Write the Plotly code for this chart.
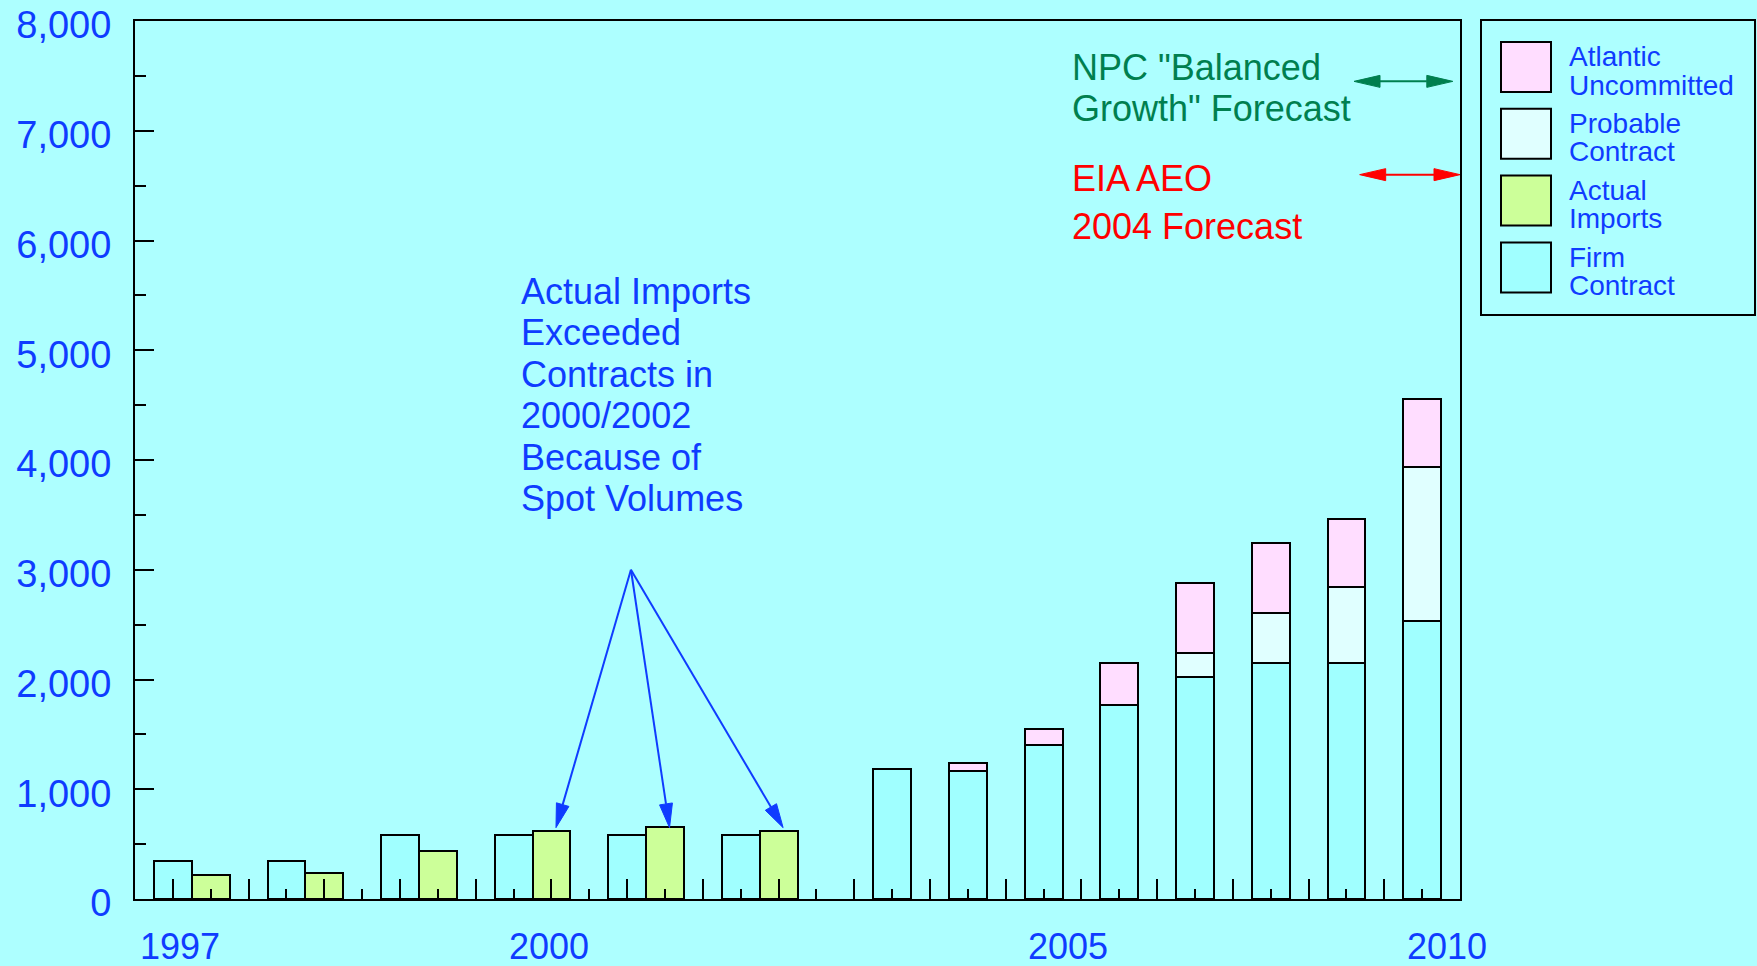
import plotly.graph_objects as go

# ---------------- data ----------------
PAIRED_YEARS = [1997, 1998, 1999, 2000, 2001, 2002]
PAIRED_FIRM = [346, 346, 587, 587, 587, 587]
ACTUAL_IMPORTS = [219, 240, 438, 620, 656, 620]

FORECAST_YEARS = [2003, 2004, 2005, 2006, 2007, 2008, 2009, 2010]
FORECAST_FIRM = [1185, 1165, 1400, 1767, 2022, 2147, 2147, 2533]
PROBABLE = [0, 0, 0, 0, 219, 459, 696, 1404]
UNCOMMITTED = [0, 73, 149, 383, 642, 638, 620, 617]

SERIES_NAMES = ["Atlantic Uncommitted", "Probable Contract", "Actual Imports", "Firm Contract"]

YEAR_LABELS = ["1997", "2000", "2005", "2010"]
YEAR_LABEL_POS = [1.2, 10.93, 24.64, 34.65]

NPC_FORECAST = 7450
EIA_FORECAST = 6600
NPC_TEXT = ['NPC "Balanced', 'Growth" Forecast']
EIA_TEXT = ["EIA AEO", "2004 Forecast"]
NOTE_TEXT = ["Actual Imports", "Exceeded", "Contracts in", "2000/2002", "Because of", "Spot Volumes"]
NOTE_ORIGIN = (13.1, 3000)
NOTE_TIP_VALUE = 650

# ---------------- styling ----------------
BG = "#ADFFFF"
C_FIRM = "#A0FFFF"
C_ACTUAL = "#CCFF99"
C_PROB = "#E0FFFF"
C_UNC = "#FFDDFF"
BLUE = "#0F3CFF"
GREEN = "#007F4F"
RED = "#FF0000"
FONT = "Liberation Sans, Arial, sans-serif"

W, H = 1757, 966
L, R, T, B = 135, 297, 21, 67
PW = W - L - R
PH = H - T - B
XMAX, YMAX = 35, 8000

# x positions: paired years at 3-unit spacing, forecast years at 2-unit spacing
firm_x = [1 + 3 * i for i in range(len(PAIRED_YEARS))]
actual_x = [2 + 3 * i for i in range(len(PAIRED_YEARS))]
fc_x = [20 + 2 * j for j in range(len(FORECAST_YEARS))]


def nz(vals):
    return [v if v else None for v in vals]


def d2px(x, v):
    return (L + x / XMAX * PW, T + (1 - v / YMAX) * PH)


def px2paper(px, py):
    return ((px - L) / PW, 1 - (py - T) / PH)


line_style = dict(color="black", width=2.5)
fig = go.Figure()
fig.add_trace(go.Bar(x=firm_x + fc_x, y=PAIRED_FIRM + FORECAST_FIRM, width=1,
                     marker=dict(color=C_FIRM, line=line_style), name=SERIES_NAMES[3]))
fig.add_trace(go.Bar(x=actual_x, y=ACTUAL_IMPORTS, width=1,
                     marker=dict(color=C_ACTUAL, line=line_style), name=SERIES_NAMES[2]))
fig.add_trace(go.Bar(x=fc_x, y=nz(PROBABLE), width=1,
                     marker=dict(color=C_PROB, line=line_style), name=SERIES_NAMES[1]))
fig.add_trace(go.Bar(x=fc_x, y=nz(UNCOMMITTED), width=1,
                     marker=dict(color=C_UNC, line=line_style), name=SERIES_NAMES[0]))

shapes = []
annotations = []


def arrow_head(tip, base_dir, hl, hw, color):
    ux, uy = base_dir
    bx, by = tip[0] + ux * hl, tip[1] + uy * hl
    nx, ny = -uy, ux
    pts = [tip, (bx + nx * hw, by + ny * hw), (bx - nx * hw, by - ny * hw)]
    pp = [px2paper(*p) for p in pts]
    path = "M{},{} L{},{} L{},{} Z".format(pp[0][0], pp[0][1], pp[1][0], pp[1][1], pp[2][0], pp[2][1])
    shapes.append(dict(type="path", path=path, xref="paper", yref="paper",
                       fillcolor=color, line=dict(color=color, width=1), layer="above"))
    return (bx, by)


def arrow(tail_px, tip_px, color, hl, hw, width=2):
    dx, dy = tail_px[0] - tip_px[0], tail_px[1] - tip_px[1]
    n = (dx * dx + dy * dy) ** 0.5
    base = arrow_head(tip_px, (dx / n, dy / n), hl, hw, color)
    p0 = px2paper(*tail_px)
    p1 = px2paper(*base)
    shapes.append(dict(type="line", xref="paper", yref="paper", x0=p0[0], y0=p0[1],
                       x1=p1[0], y1=p1[1], line=dict(color=color, width=width), layer="above"))


def double_arrow(x0, x1, v, color, hl, hw, width=2):
    a = d2px(x0, v)
    b = d2px(x1, v)
    ba = arrow_head(a, (1, 0), hl, hw, color)
    bb = arrow_head(b, (-1, 0), hl, hw, color)
    p0 = px2paper(*ba)
    p1 = px2paper(*bb)
    shapes.append(dict(type="line", xref="paper", yref="paper", x0=p0[0], y0=p0[1],
                       x1=p1[0], y1=p1[1], line=dict(color=color, width=width), layer="above"))


# blue note arrows to actual-import bars 2000-2002
origin_px = d2px(*NOTE_ORIGIN)
for yr in (2000, 2001, 2002):
    i = PAIRED_YEARS.index(yr)
    tip = d2px(actual_x[i] + 0.12, NOTE_TIP_VALUE)
    arrow(origin_px, tip, BLUE, 24, 6.5, 2)

# forecast double arrows
double_arrow(32.2, 34.81, NPC_FORECAST, GREEN, 26, 6, 2)
double_arrow(32.35, 35.0, EIA_FORECAST, RED, 26, 6, 2)


def text_at(px, py, text, color, size, xanchor="left"):
    xp, yp = px2paper(px, py)
    annotations.append(dict(x=xp, y=yp, xref="paper", yref="paper", text=text, showarrow=False,
                            xanchor=xanchor, yanchor="middle", borderpad=0, borderwidth=0,
                            font=dict(family=FONT, size=size, color=color)))


for k, t in enumerate(NOTE_TEXT):
    text_at(521, 291.3 + 41.5 * k, t, BLUE, 36)
for k, t in enumerate(NPC_TEXT):
    text_at(1072, 67.8 + 41 * k, t, GREEN, 36)
for k, t in enumerate(EIA_TEXT):
    text_at(1072, 178.3 + 48 * k, t, RED, 36)

# x labels
for lab, pos in zip(YEAR_LABELS, YEAR_LABEL_POS):
    px, _ = d2px(pos, 0)
    text_at(px, 946, lab, BLUE, 36, xanchor="center")

# legend (manual)
lx0, ly0 = px2paper(1481, 20)
lx1, ly1 = px2paper(1755, 315)
shapes.append(dict(type="rect", xref="paper", yref="paper", x0=lx0, y0=ly1, x1=lx1, y1=ly0,
                   line=dict(color="black", width=2), fillcolor=BG, layer="above"))
leg_colors = [C_UNC, C_PROB, C_ACTUAL, C_FIRM]
for k, (nm, col) in enumerate(zip(SERIES_NAMES, leg_colors)):
    top = 42 + 66.8 * k
    a = px2paper(1501, top)
    b = px2paper(1551, top + 50)
    shapes.append(dict(type="rect", xref="paper", yref="paper", x0=a[0], y0=b[1], x1=b[0], y1=a[1],
                       line=dict(color="black", width=2), fillcolor=col, layer="above"))
    c = top + 25
    words = nm.split(" ")
    text_at(1569, c - 10, words[0], BLUE, 28)
    text_at(1569, c + 18, " ".join(words[1:]), BLUE, 28)

fig.update_layout(
    width=W, height=H,
    margin=dict(l=L, r=R, t=T, b=B, autoexpand=False),
    paper_bgcolor=BG, plot_bgcolor=BG,
    barmode="stack", bargap=0,
    showlegend=False,
    shapes=shapes, annotations=annotations,
    font=dict(family=FONT, color=BLUE),
)
fig.update_xaxes(range=[0, XMAX], showgrid=False, zeroline=False, showline=True, linecolor="black",
                 linewidth=2, mirror=True, ticks="inside", tickmode="linear", tick0=1, dtick=2,
                 ticklen=20, tickwidth=2, tickcolor="black", showticklabels=False,
                 minor=dict(ticks="inside", tick0=0, dtick=1, ticklen=10, tickwidth=2,
                            tickcolor="black", showgrid=False))
fig.update_yaxes(range=[0, YMAX], showgrid=False, zeroline=False, showline=True, linecolor="black",
                 linewidth=2, mirror=True, ticks="inside", tickmode="linear", tick0=0, dtick=1000,
                 ticklen=19, tickwidth=2, tickcolor="black", tickformat=",d",
                 tickfont=dict(family=FONT, size=38, color=BLUE), ticklabelstandoff=14,
                 ticklabelshift=4,
                 minor=dict(ticks="inside", tick0=0, dtick=500, ticklen=11, tickwidth=2,
                            tickcolor="black", showgrid=False))

fig.write_html(
    "out.html",
    config={"displayModeBar": False},
    post_script="document.body.style.margin='0';document.body.style.background='" + BG + "';",
)
